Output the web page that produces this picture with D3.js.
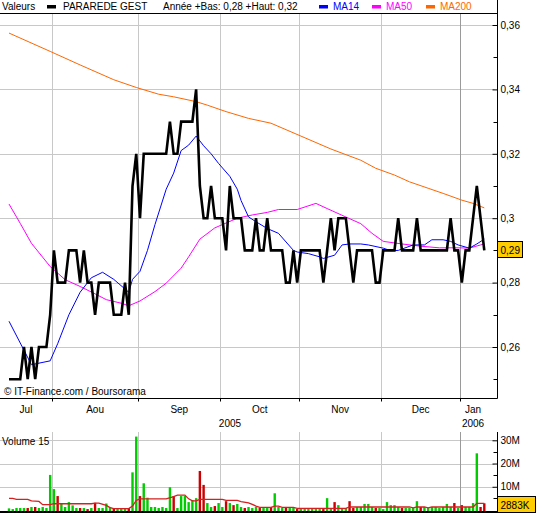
<!DOCTYPE html>
<html><head><meta charset="utf-8">
<script src="https://cdn.jsdelivr.net/npm/d3@7"></script>
<style>
body{margin:0;background:#fff}
svg{display:block;font-family:"Liberation Sans",Arial,sans-serif;font-size:10px}
</style>
</head><body>
<svg id="c" width="536" height="518"></svg>
<script>
// ---------- DATA ----------
const closes = [
 0.25,0.25,0.25,0.25,0.26,0.25,0.26,0.25,0.26,0.26,
 0.26,0.27,0.29,0.28,0.28,0.28,0.29,0.29,0.29,0.28,
 0.29,0.28,0.28,0.27,0.28,0.28,0.28,0.28,0.27,0.27,
 0.27,0.28,0.27,0.31,0.32,0.30,0.32,0.32,0.32,0.32,
 0.32,0.32,0.32,0.33,0.32,0.32,0.33,0.33,0.33,0.33,
 0.34,0.31,0.30,0.30,0.31,0.30,0.30,0.30,0.29,0.31,
 0.30,0.30,0.30,0.29,0.29,0.29,0.30,0.29,0.29,0.30,
 0.29,0.29,0.29,0.29,0.28,0.28,0.29,0.28,0.29,0.29,
 0.29,0.29,0.29,0.29,0.28,0.29,0.30,0.29,0.30,0.30,
 0.30,0.29,0.28,0.29,0.29,0.29,0.29,0.29,0.28,0.28,
 0.29,0.29,0.29,0.29,0.30,0.29,0.29,0.29,0.29,0.30,
 0.29,0.29,0.29,0.29,0.29,0.29,0.29,0.29,0.30,0.29,
 0.29,0.28,0.29,0.29,0.30,0.31,0.30,0.29];

const volumes = [ // millions of shares
 0.7,0.4,0.85,0.85,0.85,0.85,1.3,1.3,0.85,1.3,
 0.85,15.1,9.0,6.0,2.7,1.3,3.4,2.0,0.85,0.85,
 0.85,0.4,0.85,3.1,0.85,0.85,2.8,1.3,0.85,0.85,
 0.85,0.85,0.85,16.2,31.6,6.0,11.5,5.3,1.3,1.3,
 0.85,1.3,0.85,9.8,6.0,0.85,6.0,6.0,3.4,4.3,
 5.1,16.8,10.8,3.0,1.3,1.7,3.0,1.3,3.8,3.0,
 2.1,2.6,1.3,0.85,1.3,0.85,1.3,0.85,0.85,0.85,
 1.3,7.2,1.3,0.85,1.3,1.3,0.85,0.4,0.85,0.85,
 0.85,0.85,0.85,0.85,0.4,5.1,0.85,3.4,2.1,0.85,
 0.85,3.8,0.85,1.3,1.3,2.6,2.6,1.3,0.85,0.85,
 0.4,3.4,2.1,2.1,1.3,0.85,0.85,0.85,0.85,3.8,
 1.3,1.3,0.85,1.3,1.3,0.85,1.3,2.6,1.3,3.0,
 0.85,2.1,1.3,1.3,3.0,24.4,1.3,2.883];

const ma14Days = [0,4,6,11,13,16,19,22,25,28,31,32,33,35,37,39,42,44,46,48,50,52,54,56,59,61,62,64,66,69,72,76,77,80,83,84,87,89,91,94,96,100,102,104,108,111,113,116,118,120,123,125,127];
const ma14 = [0.268,0.259,0.2545,0.2557,0.261,0.27,0.277,0.2815,0.2832,0.281,0.278,0.277,0.281,0.2835,0.29,0.298,0.309,0.314,0.321,0.3227,0.3255,0.3225,0.32,0.317,0.313,0.309,0.3055,0.3004,0.2989,0.2968,0.2953,0.29,0.2895,0.289,0.288,0.2875,0.2885,0.2917,0.292,0.292,0.2917,0.2907,0.2899,0.29,0.2917,0.2917,0.2933,0.2933,0.2928,0.2917,0.2907,0.292,0.2935];

const ma50Days = [0,3,6,11,15,19,23,26,30,32,35,39,42,46,48,51,55,58,61,65,69,72,77,82,85,89,94,97,100,105,110,115,120,123,126,127];
const ma50 = [0.3044,0.2984,0.2922,0.285,0.2809,0.2788,0.2765,0.2747,0.2736,0.2728,0.2743,0.2772,0.2798,0.2845,0.288,0.2935,0.297,0.2985,0.30,0.301,0.3018,0.3027,0.3027,0.3046,0.303,0.3009,0.2983,0.2953,0.2928,0.292,0.2913,0.2908,0.2908,0.2907,0.2917,0.292];

const ma200Days = [0,11,19,28,34,40,44,50,53,58,64,70,78,86,94,98,103,107,112,116,121,124,127];
const ma200 = [0.3575,0.3518,0.3476,0.343,0.3406,0.3385,0.3377,0.3362,0.3351,0.3331,0.331,0.3295,0.3255,0.3215,0.318,0.3155,0.3134,0.3113,0.3093,0.3077,0.3056,0.3046,0.3032];

const volMaDays = [0,1,2,5,6,8,9,11,12,22,23,24,26,27,28,32,33,34,35,42,44,45,47,48,49,50,51,57,58,61,62,64,65,66,67,70,71,72,73,76,77,90,91,107,108,109,111,112,113,124,125,127];
const volMa = [5.0,5.0,4.6,4.6,3.9,3.7,2.3,2.3,2.7,2.7,3.0,3.0,2.0,1.0,0.6,0.6,1.7,4.1,4.8,4.8,5.8,6.4,6.4,4.8,3.9,3.9,4.6,4.6,4.1,4.1,3.6,3.1,2.4,1.7,1.1,1.1,1.7,1.7,1.1,1.1,0.7,0.7,1.3,1.3,0.9,1.3,1.3,0.9,1.3,1.3,2.85,2.85];

const monthFirstDays = [12,35,57,78,100,121];
const monthLabels = ["Jul","Aou","Sep","Oct","Nov","Dec","Jan"];
const yearLabels = ["2005","2006"];
const priceTicks = [0.26,0.28,0.30,0.32,0.34,0.36];
const priceMinorTicks = [0.25,0.27,0.29,0.31,0.33,0.35];
const volTicks = [10,20,30];
const volMinorTicks = [5,15,25];
const lastPriceLabel = "0,29";
const lastVolLabel = "2883K";

// ---------- LAYOUT ----------
const svg = d3.select("#c");
const AX = 497.5;
const TOP = 13.5, BOT = 398.5;
const VTOP = 432, VBOT = 511.5;
const x = d3.scaleLinear().domain([0, closes.length - 1]).range([9, 484.3]);
const y = d3.scaleLinear().domain([0.25, 0.36]).range([379.2, 25]);
const yv = d3.scaleLinear().domain([0, 30]).range([510, 440.3]);
const px = v => Math.round(v) + 0.5;
const grid = "#c8c8c8";

// ---------- GRID ----------
const g = svg.append("g");
priceTicks.forEach(t => g.append("line").attr("x1", 0).attr("x2", AX - 3).attr("y1", px(y(t))).attr("y2", px(y(t))).attr("stroke", grid));
volTicks.forEach(t => g.append("line").attr("x1", 0).attr("x2", AX - 3).attr("y1", px(yv(t))).attr("y2", px(yv(t))).attr("stroke", grid));
const bounds = monthFirstDays.map(d => x(d - 0.5));
bounds.forEach((b, i) => {
  const c = i === bounds.length - 1 ? "#9a9a9a" : grid;
  g.append("line").attr("x1", px(b)).attr("x2", px(b)).attr("y1", TOP).attr("y2", BOT).attr("stroke", c);
  g.append("line").attr("x1", px(b)).attr("x2", px(b)).attr("y1", VTOP).attr("y2", VBOT).attr("stroke", c);
  g.append("line").attr("x1", px(b)).attr("x2", px(b)).attr("y1", BOT).attr("y2", BOT + 3).attr("stroke", "#000");
});

// ---------- VOLUME ----------
svg.append("g").selectAll("rect").data(volumes).join("rect")
  .attr("x", (d, i) => x(i) - 1.2)
  .attr("width", 2.4)
  .attr("y", d => yv(d))
  .attr("height", d => 511 - yv(d))
  .attr("fill", (d, i) => (i > 0 && closes[i] < closes[i - 1]) ? "#cc0000" : "#00cc00");

svg.append("path")
  .datum(volMaDays.map((d, i) => [d, volMa[i]]))
  .attr("fill", "none").attr("stroke", "#d42020").attr("stroke-width", 1.3)
  .attr("d", d3.line().x(d => x(d[0])).y(d => yv(d[1])));

// ---------- MOVING AVERAGES ----------
function maLine(days, vals, color) {
  svg.append("path")
    .datum(days.map((d, i) => [d, vals[i]]))
    .attr("fill", "none").attr("stroke", color).attr("stroke-width", 1)
    .attr("d", d3.line().x(d => x(d[0])).y(d => y(d[1])));
}
maLine(ma200Days, ma200, "#ff6600");
maLine(ma50Days, ma50, "#ff00ff");
maLine(ma14Days, ma14, "#0000ff");

// ---------- PRICE ----------
svg.append("path")
  .datum(closes)
  .attr("fill", "none").attr("stroke", "#000").attr("stroke-width", 2.6)
  .attr("stroke-linejoin", "miter")
  .attr("d", d3.line().x((d, i) => x(i)).y(d => y(d)));

// ---------- FRAME ----------
svg.append("line").attr("x1", 0).attr("x2", AX).attr("y1", TOP).attr("y2", TOP).attr("stroke", "#000");
svg.append("line").attr("x1", 0).attr("x2", AX).attr("y1", BOT).attr("y2", BOT).attr("stroke", "#000").attr("stroke-width", 1.2);
svg.append("line").attr("x1", AX).attr("x2", AX).attr("y1", 0).attr("y2", BOT).attr("stroke", "#000");
svg.append("line").attr("x1", AX).attr("x2", AX).attr("y1", VTOP).attr("y2", 512.5).attr("stroke", "#000");
svg.append("line").attr("x1", 0).attr("x2", AX).attr("y1", 512).attr("y2", 512).attr("stroke", "#000").attr("stroke-width", 2);

// ---------- AXES ----------
const fmt = d => String(+d.toFixed(2)).replace(".", ",");
const ay = svg.append("g").attr("transform", `translate(${AX},0)`)
  .call(d3.axisRight(y).tickValues(priceTicks).tickSize(-5).tickPadding(3).tickFormat(fmt));
ay.select(".domain").remove();
ay.selectAll("text").attr("font-size", 10).attr("font-family", "Liberation Sans, Arial, sans-serif").attr("fill", "#000");
priceMinorTicks.forEach(t => svg.append("line").attr("x1", AX - 4).attr("x2", AX).attr("y1", px(y(t))).attr("y2", px(y(t))).attr("stroke", "#000"));

const av = svg.append("g").attr("transform", `translate(${AX},0)`)
  .call(d3.axisRight(yv).tickValues(volTicks).tickSize(-5).tickPadding(3).tickFormat(d => d + "M"));
av.select(".domain").remove();
av.selectAll("text").attr("font-size", 10).attr("font-family", "Liberation Sans, Arial, sans-serif").attr("fill", "#000");
volMinorTicks.forEach(t => svg.append("line").attr("x1", AX - 4).attr("x2", AX).attr("y1", px(yv(t))).attr("y2", px(yv(t))).attr("stroke", "#000"));

// last value boxes
const ly = y(closes[closes.length - 1]);
svg.append("rect").attr("x", AX).attr("y", Math.round(ly) - 8.5).attr("width", 25).attr("height", 16)
  .attr("fill", "#ffcc00").attr("stroke", "#000");
svg.append("text").attr("x", AX + 3).attr("y", Math.round(ly) + 3.5).text(lastPriceLabel);
svg.append("rect").attr("x", AX).attr("y", 496.5).attr("width", 38).attr("height", 16)
  .attr("fill", "#ffcc00").attr("stroke", "#000");
svg.append("text").attr("x", AX + 3).attr("y", 508.5).text(lastVolLabel);

// month & year labels
const mb = [0, ...bounds, x(closes.length - 0.5)];
monthLabels.forEach((m, i) => svg.append("text").attr("x", (mb[i] + mb[i + 1]) / 2).attr("y", 413)
  .attr("text-anchor", "middle").text(m));
const yb = [0, bounds[bounds.length - 1], x(closes.length - 0.5)];
yearLabels.forEach((t, i) => svg.append("text").attr("x", (yb[i] + yb[i + 1]) / 2).attr("y", 427)
  .attr("text-anchor", "middle").text(t));

// texts
svg.append("text").attr("x", 4).attr("y", 395).text("\u00a9 IT-Finance.com / Boursorama");
svg.append("text").attr("x", 2).attr("y", 444.5).text("Volume 15");

// ---------- LEGEND ----------
const leg = svg.append("g");
leg.append("text").attr("x", 2).attr("y", 10).text("Valeurs");
leg.append("rect").attr("x", 47).attr("y", 5).attr("width", 9).attr("height", 3.5).attr("fill", "#000");
leg.append("text").attr("x", 63).attr("y", 10).text("PARAREDE GEST");
leg.append("text").attr("x", 163).attr("y", 10).text("Ann\u00e9e +Bas: 0,28 +Haut: 0,32");
const legItems = [["MA14", "#0000ff", 319], ["MA50", "#ff00ff", 372], ["MA200", "#ff6600", 426]];
legItems.forEach(([t, c, lx]) => {
  leg.append("rect").attr("x", lx).attr("y", 5).attr("width", 9).attr("height", 3.5).attr("fill", c);
  leg.append("text").attr("x", lx + 14).attr("y", 10).attr("fill", c).text(t);
});
</script>
</body></html>
